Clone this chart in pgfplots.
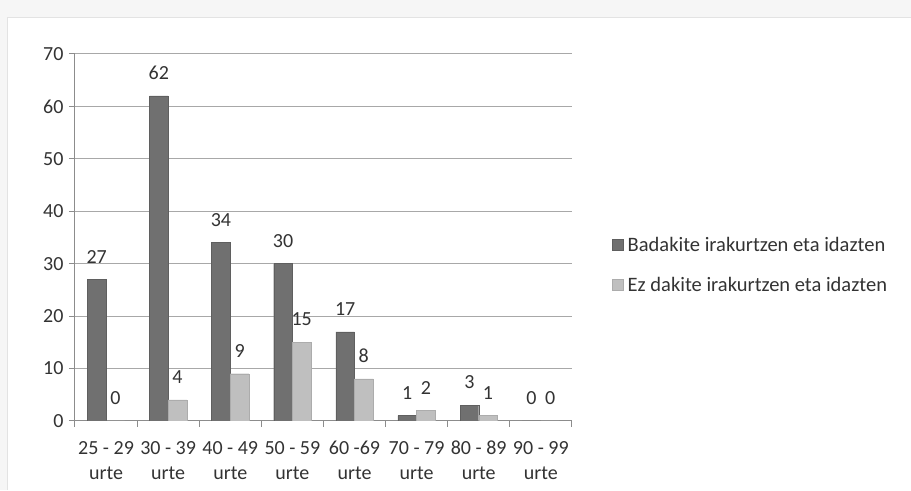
\documentclass[border=0pt]{standalone}
\usepackage{fontspec}
\setmainfont{Carlito}
\usepackage{pgfplots}
\pgfplotsset{compat=1.18}
\definecolor{darkbar}{HTML}{707070}
\definecolor{lightbar}{HTML}{BFBFBF}
\definecolor{txt}{HTML}{333333}
\definecolor{gridc}{HTML}{A8A8A8}
\definecolor{axc}{HTML}{8C8C8C}
\begin{document}
\begin{tikzpicture}[x=1pt,y=1pt]
\fill[gray!7] (0,0) rectangle (911,490);
\fill[white] (7,0) rectangle (911,473);
\draw[gray!22] (7,0) -- (7,473) -- (911,473);
\begin{axis}[
  at={(75pt,69pt)}, anchor=south west,
  scale only axis, width=497pt, height=367pt,
  ymin=0, ymax=70, ytick={0,10,...,70},
  xmin=-0.5, xmax=7.5,
  xtick={-0.5,0.5,...,7.5},
  x tick label as interval,
  xticklabels={{25 - 29\\urte},{30 - 39\\urte},{40 - 49\\urte},{50 - 59\\urte},{60 -69\\urte},{70 - 79\\urte},{80 - 89\\urte},{90 - 99\\urte}},
  x tick label style={align=center, font=\fontsize{20}{25}\selectfont, text=txt, inner sep=2pt, yshift=-12pt},
  y tick label style={font=\fontsize{20}{22}\selectfont, text=txt, xshift=-2pt},
  /pgf/number format/assume math mode=true,
  axis x line*=bottom, axis y line*=left,
  axis line style={axc, line width=1pt},
  tick align=outside, major tick length=6pt,
  tick style={axc, line width=1pt},
  ymajorgrids, grid style={gridc, line width=1pt},
  ybar, bar width=0.3,
  nodes near coords,
  nodes near coords style={font=\fontsize{20}{22}\selectfont, text=txt, inner sep=5pt, yshift=11pt},
  legend style={at={(1.075,0.425)}, anchor=west, draw=none, fill=none,
    font=\fontsize{20.5}{22}\selectfont, text=txt, row sep=20pt,
    /tikz/every odd column/.append style={column sep=2pt}},
  legend cell align=left,
  legend image code/.code={\fill[#1] (0pt,-5pt) rectangle (11pt,6pt);},
]
\addplot[fill=darkbar, draw=darkbar!85!black, bar shift=-0.15] coordinates {(0,27) (1,62) (2,34) (3,30) (4,17) (5,1) (6,3) (7,0)};
\addplot[fill=lightbar, draw=lightbar!90!black, bar shift=0.15] coordinates {(0,0) (1,4) (2,9) (3,15) (4,8) (5,2) (6,1) (7,0)};
\legend{Badakite irakurtzen eta idazten, Ez dakite irakurtzen eta idazten}
\end{axis}
\end{tikzpicture}
\end{document}
